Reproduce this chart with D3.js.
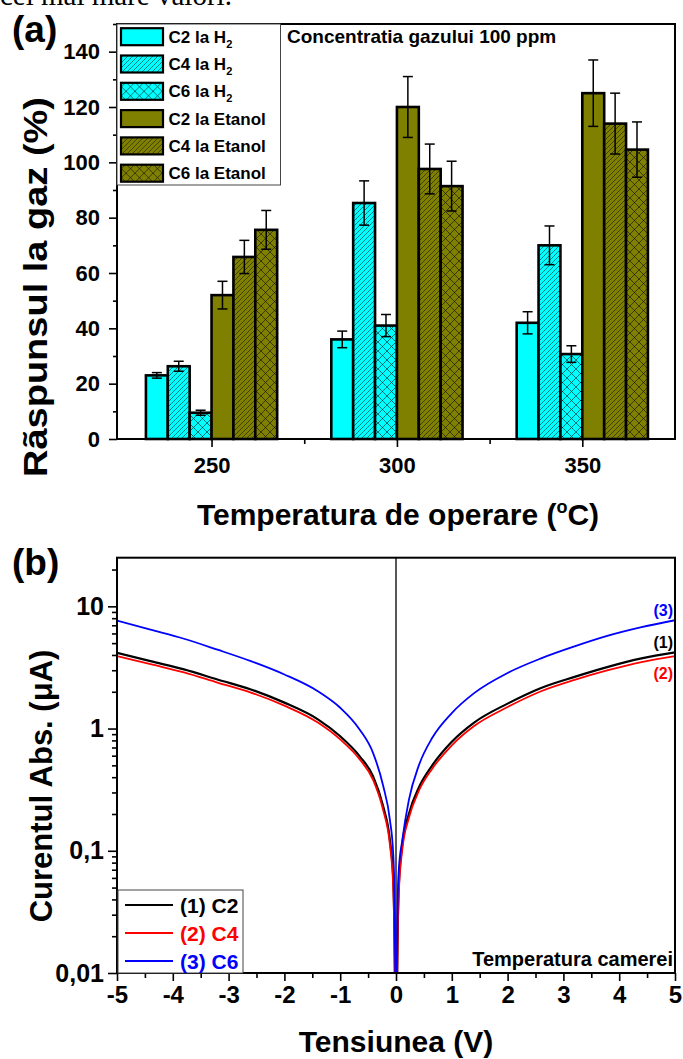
<!DOCTYPE html>
<html>
<head>
<meta charset="utf-8">
<script src="https://cdn.jsdelivr.net/npm/d3@7"></script>
<style>
  body { margin: 0; background: #fff; }
  svg text { font-family: "Liberation Sans", Arial, sans-serif; font-weight: bold; }
</style>
</head>
<body>
<script>
// ---- panel (a): gas response ----
var temperatures = [250, 300, 350];
var legendLabels = ["C2 la H_2", "C4 la H_2", "C6 la H_2", "C2 la Etanol", "C4 la Etanol", "C6 la Etanol"];
var c2H2 = [23, 36, 42],        c2H2Err = [1, 3, 4];
var c4H2 = [26.3, 85.3, 70],    c4H2Err = [1.8, 8, 7];
var c6H2 = [9.5, 41, 30.7],     c6H2Err = [0.9, 4, 3];
var c2Et = [52, 120, 125],      c2EtErr = [5, 11, 12];
var c4Et = [65.8, 97.6, 114],   c4EtErr = [6, 9, 11];
var c6Et = [75.6, 91.4, 104.6], c6EtErr = [7, 9, 10];
var yTicksA = [0, 20, 40, 60, 80, 100, 120, 140];

// ---- panel (b): I-V curves ----
var voltage = [-5, -4.4, -3.8, -3.2, -2.6, -2.0, -1.4, -1.0, -0.65, -0.41, -0.23, -0.11, -0.05, -0.03, -0.015, -0.005,
               0.005, 0.015, 0.03, 0.05, 0.11, 0.23, 0.41, 0.65, 1.0, 1.4, 2.0, 2.6, 3.2, 3.8, 4.4, 5.0];
var currentC2 = [4.17, 3.56, 3.05, 2.52, 2.09, 1.63, 1.19, 0.865, 0.593, 0.406, 0.231, 0.123, 0.06, 0.025, 0.006, 0.002,
                 0.002, 0.006, 0.022, 0.052, 0.11, 0.2, 0.33, 0.5, 0.78, 1.12, 1.6, 2.15, 2.65, 3.2, 3.75, 4.2];
var currentC4 = [3.92, 3.36, 2.88, 2.38, 1.97, 1.54, 1.12, 0.815, 0.56, 0.38, 0.215, 0.113, 0.052, 0.02, 0.005, 0.002,
                 0.002, 0.005, 0.018, 0.045, 0.1, 0.185, 0.31, 0.47, 0.73, 1.05, 1.5, 2.02, 2.5, 3.0, 3.5, 3.92];
var currentC6 = [7.64, 6.44, 5.43, 4.42, 3.56, 2.77, 2.02, 1.48, 0.98, 0.63, 0.34, 0.18, 0.095, 0.05, 0.012, 0.003,
                 0.003, 0.012, 0.04, 0.07, 0.12, 0.26, 0.5, 0.84, 1.34, 1.95, 2.85, 3.75, 4.7, 5.75, 6.75, 7.7];
var curveNames = ["(1) C2", "(2) C4", "(3) C6"];
var yTicksB = [0.01, 0.1, 1, 10];
var yTickLabelsB = ["0,01", "0,1", "1", "10"];

var W = 683, H = 1059;
var svg = d3.select("body").append("svg").attr("width", W).attr("height", H);
svg.append("rect").attr("width", W).attr("height", H).attr("fill", "#fff");

// cut-off line of text from the page above the figure
svg.append("text").attr("x", 0).attr("y", 5)
  .style("font-family", "'Liberation Serif', 'Times New Roman', serif").style("font-weight", "normal")
  .attr("font-size", 29).text("cei mai mare valori.");

// ===================== PANEL (a) =====================
var xA = d3.scaleLinear().domain([224.5, 375]).range([117, 675]);
var yA = d3.scaleLinear().domain([0, 150]).range([439, 24]);

var defs = svg.append("defs");
function hatch(id, bg) {
  var p = defs.append("pattern").attr("id", id).attr("patternUnits", "userSpaceOnUse").attr("width", 5).attr("height", 5);
  p.append("rect").attr("width", 5).attr("height", 5).attr("fill", bg);
  p.append("path").attr("d", "M-1,1 l2,-2 M0,5 l5,-5 M4,6 l2,-2")
    .attr("stroke", "#000").attr("stroke-opacity", 0.55).attr("stroke-width", 0.9);
}
function cross(id, bg) {
  var p = defs.append("pattern").attr("id", id).attr("patternUnits", "userSpaceOnUse").attr("width", 9).attr("height", 9);
  p.append("rect").attr("width", 9).attr("height", 9).attr("fill", bg);
  p.append("path").attr("d", "M0,0 L9,9 M9,0 L0,9")
    .attr("stroke", "#000").attr("stroke-opacity", 0.6).attr("stroke-width", 0.9);
}
var cyan = "#00ffff", olive = "#808000";
hatch("hatchCyan", cyan); cross("crossCyan", cyan);
hatch("hatchOlive", olive); cross("crossOlive", olive);
var fills = [cyan, "url(#hatchCyan)", "url(#crossCyan)", olive, "url(#hatchOlive)", "url(#crossOlive)"];

var seriesVals = [c2H2, c4H2, c6H2, c2Et, c4Et, c6Et];
var seriesErrs = [c2H2Err, c4H2Err, c6H2Err, c2EtErr, c4EtErr, c6EtErr];
var barUnits = 5.9;
var barPx = xA(barUnits) - xA(0);

var barData = [];
seriesVals.forEach(function(vals, s) {
  temperatures.forEach(function(t, i) {
    barData.push({s: s, t: t, v: vals[i], e: seriesErrs[s][i]});
  });
});

var gA = svg.append("g");
gA.selectAll("rect.bar").data(barData).enter().append("rect")
  .attr("class", "bar")
  .attr("x", function(d) { return xA(d.t + (d.s - 3) * barUnits); })
  .attr("y", function(d) { return yA(d.v); })
  .attr("width", barPx)
  .attr("height", function(d) { return yA(0) - yA(d.v); })
  .attr("fill", function(d) { return fills[d.s]; })
  .attr("stroke", "#000").attr("stroke-width", 2.6);

// error bars
var eb = gA.selectAll("g.err").data(barData).enter().append("g").attr("class", "err")
  .attr("stroke", "#000").attr("stroke-width", 1.5);
function cx(d) { return xA(d.t + (d.s - 2.5) * barUnits); }
eb.append("line").attr("x1", cx).attr("x2", cx)
  .attr("y1", function(d) { return yA(d.v + d.e); }).attr("y2", function(d) { return yA(d.v - d.e); });
eb.append("line").attr("x1", function(d) { return cx(d) - 5; }).attr("x2", function(d) { return cx(d) + 5; })
  .attr("y1", function(d) { return yA(d.v + d.e); }).attr("y2", function(d) { return yA(d.v + d.e); });
eb.append("line").attr("x1", function(d) { return cx(d) - 5; }).attr("x2", function(d) { return cx(d) + 5; })
  .attr("y1", function(d) { return yA(d.v - d.e); }).attr("y2", function(d) { return yA(d.v - d.e); });

// frame
svg.append("rect").attr("x", 117).attr("y", 24).attr("width", 558).attr("height", 415)
  .attr("fill", "none").attr("stroke", "#000").attr("stroke-width", 2);

// axes (a)
function styleAxis(g, fs) {
  g.select(".domain").remove();
  g.selectAll(".tick line").attr("stroke", "#000").attr("stroke-width", 1.6);
  g.selectAll("text").attr("fill", "#000").attr("font-size", fs)
    .style("font-family", "'Liberation Sans', Arial, sans-serif").style("font-weight", "bold");
}
var axLeftA = svg.append("g").attr("transform", "translate(117,0)")
  .call(d3.axisLeft(yA).tickValues(yTicksA).tickSize(8).tickPadding(9));
styleAxis(axLeftA, 22);
var axLeftAminor = svg.append("g").attr("transform", "translate(117,0)")
  .call(d3.axisLeft(yA).tickValues(d3.range(10, 151, 20)).tickSize(4).tickFormat(""));
styleAxis(axLeftAminor, 22);
var axBotA = svg.append("g").attr("transform", "translate(0,439)")
  .call(d3.axisBottom(xA).tickValues(temperatures).tickSize(8).tickPadding(10).tickFormat(d3.format("d")));
styleAxis(axBotA, 22);
var axBotAminor = svg.append("g").attr("transform", "translate(0,439)")
  .call(d3.axisBottom(xA).tickValues([275, 325]).tickSize(5).tickFormat(""));
styleAxis(axBotAminor, 22);

// legend (a)
svg.append("rect").attr("x", 117).attr("y", 24).attr("width", 163.5).attr("height", 161)
  .attr("fill", "#fff").attr("stroke", "#444").attr("stroke-width", 1);
var legA = svg.selectAll("g.legA").data(legendLabels).enter().append("g").attr("class", "legA")
  .attr("transform", function(d, i) { return "translate(0," + (36.7 + i * 27.3) + ")"; });
legA.append("rect").attr("x", 121).attr("y", -8.5).attr("width", 42).attr("height", 17)
  .attr("fill", function(d, i) { return fills[i]; }).attr("stroke", "#000").attr("stroke-width", 2.2);
legA.append("text").attr("x", 168.5).attr("y", 6).attr("font-size", 17).each(function(d) {
  var parts = d.split("_");
  var t = d3.select(this);
  t.append("tspan").text(parts[0]);
  if (parts[1]) t.append("tspan").attr("font-size", 11).attr("dy", 5).text(parts[1]);
});

svg.append("text").attr("x", 287).attr("y", 43).attr("font-size", 19).text("Concentratia gazului 100 ppm");

svg.append("text").attr("x", 12).attr("y", 42).attr("font-size", 37).text("(a)");

svg.append("text").attr("transform", "translate(47,287) rotate(-90)").attr("text-anchor", "middle")
  .attr("font-size", 33).attr("textLength", 380).attr("lengthAdjust", "spacingAndGlyphs")
  .text("Rãspunsul la gaz (%)");

var xtA = svg.append("text").attr("x", 398).attr("y", 525).attr("text-anchor", "middle").attr("font-size", 30);
xtA.append("tspan").text("Temperatura de operare (");
xtA.append("tspan").attr("font-size", 18).attr("dy", -12).text("o");
xtA.append("tspan").attr("dy", 12).text("C)");

// ===================== PANEL (b) =====================
var xB = d3.scaleLinear().domain([-5, 5]).range([117, 675]);
var yB = d3.scaleLog().domain([0.01, 25]).range([973, 557.7]);

defs.append("clipPath").attr("id", "clipB").append("rect")
  .attr("x", xB(-5)).attr("y", yB(25)).attr("width", xB(5) - xB(-5)).attr("height", yB(0.01) - yB(25));

// zero line
svg.append("line").attr("x1", xB(0)).attr("x2", xB(0)).attr("y1", yB(25)).attr("y2", yB(0.01))
  .attr("stroke", "#222").attr("stroke-width", 1.5);

var curves = [currentC2, currentC4, currentC6];
var curveColors = ["#000", "#ff0000", "#0000ff"];
var line = d3.line()
  .x(function(d) { return xB(d[0]); })
  .y(function(d) { return yB(d[1]); })
  .curve(d3.curveMonotoneX);
var gB = svg.append("g").attr("clip-path", "url(#clipB)");
[0, 1, 2].forEach(function(k) {
  gB.append("path").datum(d3.zip(voltage, curves[k]))
    .attr("d", line).attr("fill", "none")
    .attr("stroke", curveColors[k]).attr("stroke-width", k === 0 ? 2.2 : 1.8);
});

svg.append("rect").attr("x", xB(-5)).attr("y", yB(25)).attr("width", xB(5) - xB(-5)).attr("height", yB(0.01) - yB(25))
  .attr("fill", "none").attr("stroke", "#000").attr("stroke-width", 2);

var axBotB = svg.append("g").attr("transform", "translate(0," + yB(0.01) + ")")
  .call(d3.axisBottom(xB).tickValues(d3.range(-5, 6)).tickSize(8).tickPadding(5).tickFormat(function(d) { return String(d); }));
styleAxis(axBotB, 24);
var axBotBminor = svg.append("g").attr("transform", "translate(0," + yB(0.01) + ")")
  .call(d3.axisBottom(xB).tickValues(d3.range(-4.5, 5, 1)).tickSize(5).tickFormat(""));
styleAxis(axBotBminor, 24);

var minorLog = [];
[0.01, 0.1, 1, 10].forEach(function(dec) {
  for (var m = 2; m <= 9; m++) { if (dec * m <= 25) minorLog.push(dec * m); }
});
var axLeftB = svg.append("g").attr("transform", "translate(" + xB(-5) + ",0)")
  .call(d3.axisLeft(yB).tickValues(yTicksB).tickSize(9).tickPadding(4)
    .tickFormat(function(d, i) { return yTickLabelsB[i]; }));
styleAxis(axLeftB, 25);
var axLeftBminor = svg.append("g").attr("transform", "translate(" + xB(-5) + ",0)")
  .call(d3.axisLeft(yB).tickValues(minorLog).tickSize(5).tickFormat(""));
styleAxis(axLeftBminor, 25);

// legend (b)
svg.append("rect").attr("x", 118).attr("y", 890).attr("width", 125).attr("height", 83)
  .attr("fill", "#fff").attr("stroke", "#444").attr("stroke-width", 1);
var legB = svg.selectAll("g.legB").data(curveNames).enter().append("g").attr("class", "legB")
  .attr("transform", function(d, i) { return "translate(0," + (905 + i * 28) + ")"; });
legB.append("line").attr("x1", 125).attr("x2", 173).attr("y1", 0).attr("y2", 0)
  .attr("stroke", function(d, i) { return curveColors[i]; }).attr("stroke-width", 2);
legB.append("text").attr("x", 180).attr("y", 7.5).attr("font-size", 21)
  .attr("fill", function(d, i) { return curveColors[i]; }).text(function(d) { return d; });

// curve end labels
var endLabels = [{t: "(1)", k: 0, dy: -4}, {t: "(2)", k: 1, dy: 23}, {t: "(3)", k: 2, dy: -4}];
svg.selectAll("text.endLab").data(endLabels).enter().append("text").attr("class", "endLab")
  .attr("x", 673).attr("y", function(d) { return yB(curves[d.k][curves[d.k].length - 1]) + d.dy; })
  .attr("text-anchor", "end").attr("font-size", 16)
  .attr("fill", function(d) { return curveColors[d.k]; }).text(function(d) { return d.t; });

svg.append("text").attr("x", 673).attr("y", 966).attr("text-anchor", "end").attr("font-size", 20).text("Temperatura camerei");

svg.append("text").attr("x", 12).attr("y", 575).attr("font-size", 37).text("(b)");

svg.append("text").attr("transform", "translate(52,786) rotate(-90)").attr("text-anchor", "middle")
  .attr("font-size", 31).text("Curentul Abs. (μA)");

svg.append("text").attr("x", 396).attr("y", 1052).attr("text-anchor", "middle").attr("font-size", 30).text("Tensiunea (V)");
</script>
</body>
</html>
